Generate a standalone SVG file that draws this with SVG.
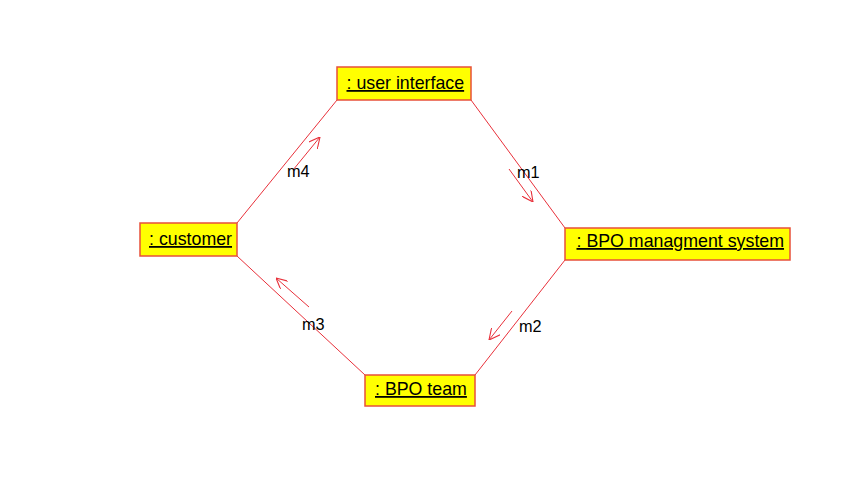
<svg xmlns="http://www.w3.org/2000/svg" width="865" height="484" viewBox="0 0 865 484">
<style>
.box{fill:#FFFF00;stroke:#E8503A;stroke-width:1.5}
.name{font-family:"Liberation Sans",Arial,sans-serif;font-size:17.8px;fill:#000;text-decoration:underline}
.link{stroke:#E8303A;stroke-width:1;fill:none}
.msg{stroke:#E8303A;stroke-width:1;fill:none}
.lbl{font-family:"Liberation Sans",Arial,sans-serif;font-size:16.3px;fill:#000}
</style>
<defs>
<marker id="open" viewBox="0 0 10 10" refX="10" refY="5" markerWidth="11" markerHeight="11" markerUnits="userSpaceOnUse" orient="auto">
<path d="M0,0 L10,5 L0,10" fill="none" stroke="#E8303A" stroke-width="1"/>
</marker>
</defs>
<rect width="865" height="484" fill="#fff"/>
<g id="connectors">
<line class="link" x1="237" y1="223" x2="337" y2="100"/>
<line class="link" x1="471" y1="100" x2="565" y2="228"/>
<line class="link" x1="565" y1="260" x2="475" y2="375"/>
<line class="link" x1="365" y1="375" x2="237" y2="256"/>
<line class="msg" x1="293" y1="170" x2="320" y2="137" marker-end="url(#open)"/>
<line class="msg" x1="509" y1="169" x2="533" y2="202" marker-end="url(#open)"/>
<line class="msg" x1="512" y1="311" x2="489" y2="340" marker-end="url(#open)"/>
<line class="msg" x1="309" y1="307" x2="276" y2="278" marker-end="url(#open)"/>
<text class="lbl" x="287" y="177">m4</text>
<text class="lbl" x="517" y="178">m1</text>
<text class="lbl" x="519" y="332">m2</text>
<text class="lbl" x="302" y="330">m3</text>
</g>
<g id="user-interface">
<rect class="box" x="337" y="67" width="134" height="33"/>
<text class="name" x="346.5" y="89">: user interface</text>
</g>
<g id="customer">
<rect class="box" x="140" y="223" width="97" height="33"/>
<text class="name" x="149" y="245">: customer</text>
</g>
<g id="bpo-managment-system">
<rect class="box" x="565" y="228" width="225" height="32"/>
<text class="name" x="576.5" y="247">: BPO managment system</text>
</g>
<g id="bpo-team">
<rect class="box" x="365" y="375" width="110" height="31"/>
<text class="name" x="375" y="395">: BPO team</text>
</g>
</svg>
